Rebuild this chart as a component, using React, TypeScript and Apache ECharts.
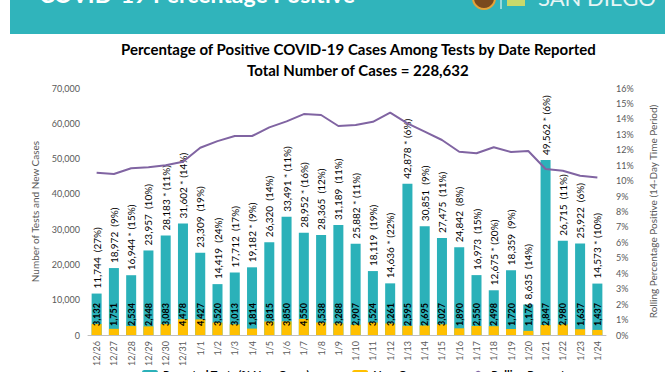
import React, { useEffect, useRef } from "react";
import * as echarts from "echarts";

const categories = ["12/26","12/27","12/28","12/29","12/30","12/31","1/1","1/2","1/3","1/4","1/5","1/6","1/7","1/8","1/9","1/10","1/11","1/12","1/13","1/14","1/15","1/16","1/17","1/18","1/19","1/20","1/21","1/22","1/23","1/24"];
const reportedTests = [11744,18972,16944,23957,28183,31602,23309,14419,17712,19182,26320,33491,28952,28365,31189,25882,18119,14636,42878,30851,27475,24842,16973,12675,18359,8635,49562,26715,25922,14573];
const newCases = [3132,1751,2534,2448,3083,4478,4427,3520,3013,1814,3815,3850,4550,3538,3288,2907,3524,3261,2595,2695,3027,1890,2550,2498,1720,1176,2847,2980,1637,1437];
const pctNewCases = [27,9,15,10,11,14,19,24,17,9,14,11,16,12,11,11,19,22,6,9,11,8,15,20,9,14,6,11,6,10];
const starred = [false,false,true,false,true,true,false,false,false,true,false,true,true,false,false,true,false,true,true,false,false,false,false,true,false,false,true,false,false,true];
const rollingPct = [10.51,10.43,10.8,10.86,10.99,11.22,12.13,12.56,12.89,12.89,13.45,13.84,14.31,14.25,13.54,13.6,13.81,14.4,13.71,13.17,12.63,11.87,11.77,12.16,11.85,11.92,10.75,10.64,10.32,10.21];

const FONT = "Lato, 'DejaVu Sans', sans-serif";
const fmt = (v: number) => v.toLocaleString("en-US");

export default function App() {
  const ref = useRef<HTMLDivElement>(null);
  useEffect(() => {
    if (!ref.current) return;
    const chart = echarts.init(ref.current, null, { renderer: "svg" });
    chart.setOption({
      animation: false,
      textStyle: { fontFamily: FONT },
      title: [
        {
          text: "Percentage of Positive COVID-19 Cases Among Tests by Date Reported",
          left: 116,
          top: 36,
          textStyle: { fontSize: 15, fontWeight: "bold", color: "#000", fontFamily: FONT },
        },
        {
          text: "Total Number of Cases = 228,632",
          left: 242,
          top: 57,
          textStyle: { fontSize: 15, fontWeight: "bold", color: "#000", fontFamily: FONT },
        },
      ],
      graphic: [
        { type: "rect", shape: { x: 10, y: 0, width: 655, height: 34 }, style: { fill: "#30B4BB" } },
        {
          type: "text",
          x: 39,
          y: 5,
          style: { text: "COVID-19 Percentage Positive", fill: "#fff", font: `bold 23px ${FONT}`, verticalAlign: "bottom" },
        },
        { type: "circle", shape: { cx: 484, cy: -2, r: 11 }, style: { fill: "#7A4A1E", stroke: "#E3A33A", lineWidth: 2 } },
        { type: "line", shape: { x1: 501, y1: 0, x2: 501, y2: 9 }, style: { stroke: "#fff", lineWidth: 1 } },
        { type: "rect", shape: { x: 507, y: 0, width: 18, height: 6 }, style: { fill: "#C9D96B" } },
        {
          type: "text",
          x: 538,
          y: 8,
          style: { text: "SAN DIEGO", fill: "#E6F5F5", font: `22px ${FONT}`, verticalAlign: "bottom" },
        },
      ],
      legend: {
        left: 137,
        top: 364,
        itemWidth: 16,
        itemHeight: 9,
        itemGap: 42,
        textStyle: { fontSize: 11, fontWeight: "bold", color: "#000", fontFamily: FONT },
        data: ["Reported Tests (% New Cases)", "New Cases", "Rolling Percentage"],
      },
      grid: { left: 88, right: 66, top: 88, bottom: 37 },
      xAxis: {
        type: "category",
        data: categories,
        axisLine: { lineStyle: { color: "#BFBFBF" } },
        axisTick: { show: false },
        axisLabel: { rotate: 90, fontSize: 9, color: "#595959", margin: 6, interval: 0 },
      },
      yAxis: [
        {
          type: "value",
          min: 0,
          max: 70000,
          interval: 10000,
          splitLine: { show: false },
          axisLine: { show: false },
          axisTick: { show: false },
          axisLabel: { fontSize: 9, color: "#595959", margin: 8, formatter: (v: number) => fmt(v) },
          name: "Number of Tests and New Cases",
          nameLocation: "middle",
          nameRotate: 90,
          nameGap: 48,
          nameTextStyle: { fontSize: 10, color: "#595959" },
        },
        {
          type: "value",
          min: 0,
          max: 16,
          interval: 1,
          splitLine: { show: false },
          axisLine: { show: false },
          axisTick: { show: false },
          axisLabel: { fontSize: 9, color: "#595959", margin: 10, formatter: "{value}%" },
          name: "Rolling Percentage Positive (14-Day Time Period)",
          nameLocation: "middle",
          nameRotate: 90,
          nameGap: 42,
          nameTextStyle: { fontSize: 10, color: "#595959" },
        },
      ],
      series: [
        {
          name: "Reported Tests (% New Cases)",
          type: "bar",
          data: reportedTests,
          barWidth: 10,
          itemStyle: { color: "#2BB1B9" },
          label: {
            show: true,
            position: "top",
            distance: 5,
            rotate: 90,
            align: "left",
            verticalAlign: "middle",
            fontSize: 10,
            color: "#000",
            fontFamily: FONT,
            formatter: (p: any) =>
              `${fmt(p.value)}${starred[p.dataIndex] ? " * " : "  "}(${pctNewCases[p.dataIndex]}%)`,
          },
        },
        {
          name: "New Cases",
          type: "bar",
          data: newCases,
          barWidth: 10,
          barGap: "-100%",
          itemStyle: { color: "#FFC000" },
          label: {
            show: true,
            position: "insideBottom",
            distance: 9,
            rotate: 90,
            align: "left",
            verticalAlign: "middle",
            fontSize: 9,
            fontWeight: "bold",
            color: "#000",
            fontFamily: FONT,
            formatter: (p: any) => fmt(p.value),
          },
        },
        {
          name: "Rolling Percentage",
          type: "line",
          yAxisIndex: 1,
          data: rollingPct,
          symbol: "none",
          lineStyle: { color: "#8064A2", width: 2 },
          itemStyle: { color: "#8064A2" },
          z: 5,
        },
      ],
    });
    return () => chart.dispose();
  }, []);
  return (
    <div
      ref={ref}
      style={{ position: "fixed", left: 0, top: 0, width: 672, height: 372, background: "#fff" }}
    />
  );
}
